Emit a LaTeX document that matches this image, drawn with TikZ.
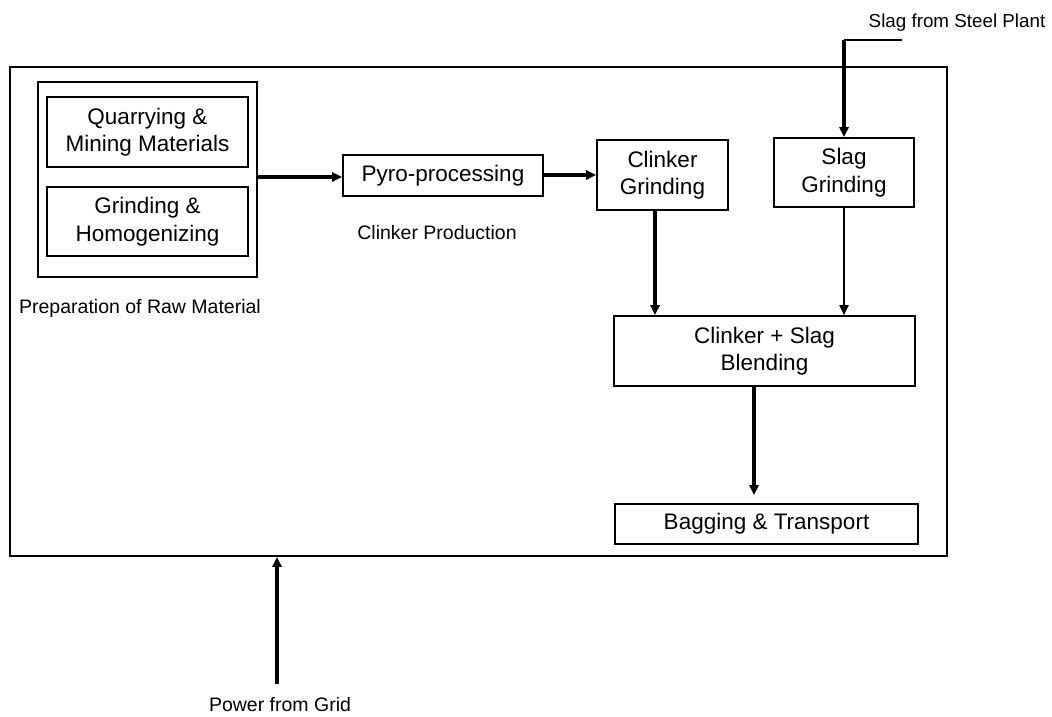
\documentclass[tikz,border=0pt]{standalone}
\usepackage{fontspec}
\setmainfont{Liberation Sans}
\usetikzlibrary{arrows.meta,calc}
\begin{document}
\begin{tikzpicture}[x=1pt,y=-1pt,
  box/.style={draw, line width=1.6pt, rectangle, inner sep=0pt, align=center,
    font=\fontsize{22.5}{27.5}\selectfont},
  lbl/.style={inner sep=0pt, font=\fontsize{19.5}{24}\selectfont},
  thickarrow/.style={line width=3.6pt, -{Triangle[length=10pt,width=9pt]}},
  thinarrow/.style={line width=1.8pt, -{Triangle[length=10pt,width=9pt]}},
  plainline/.style={line width=1.6pt}]
\useasboundingbox (0,0) rectangle (1052,717);
% outer frame
\node[box, minimum width=937pt, minimum height=489pt] (outer) at (478.5,311.5) {};
% raw material container
\node[box, minimum width=219pt, minimum height=195pt] (cont) at (147.5,179.5) {};
\node[box, minimum width=201pt, minimum height=70pt] (quarry) at (147.5,132) {Quarrying \&\\Mining Materials};
\node[box, minimum width=201pt, minimum height=69pt] (grind) at (147.5,221.5) {Grinding \&\\Homogenizing};
\node[lbl] (prep) at (140,308) {Preparation of Raw Material};
% process boxes
\node[box, minimum width=200pt, minimum height=41pt] (pyro) at (443,175.5) {Pyro-processing};
\node[lbl] (clprod) at (437,233) {Clinker Production};
\node[box, minimum width=131pt, minimum height=70pt] (cg) at (662.5,175) {Clinker\\Grinding};
\node[box, minimum width=140pt, minimum height=69pt] (sg) at (844,172.5) {Slag\\Grinding};
\node[box, minimum width=301pt, minimum height=70pt] (blend) at (764.5,351) {Clinker + Slag\\Blending};
\node[box, minimum width=303pt, minimum height=40pt] (bag) at (766.5,524) {Bagging \& Transport};
% external labels
\node[lbl, font=\fontsize{18.8}{23}\selectfont] (slagtxt) at (957,23) {Slag from Steel Plant};
\node[lbl] (power) at (280,705) {Power from Grid};
\coordinate (slagend) at (902,40);
\coordinate (powerend) at (277,684);
% connectors
\draw[thickarrow] (cont.east |- 0,177) -- (pyro.west |- 0,177);
\draw[thickarrow] (pyro.east |- 0,175) -- (cg.west |- 0,175);
\draw[thickarrow] ([xshift=-7.5pt]cg.south) -- ([xshift=-7.5pt]cg.south |- blend.north);
\draw[thinarrow] (sg.south) -- (sg.south |- blend.north);
\draw[thickarrow, shorten >=8pt] ([xshift=-10.5pt]blend.south) -- ([xshift=-10.5pt]blend.south |- bag.north);
\draw[plainline] (slagend) -- (sg.north |- slagend);
\draw[thickarrow] (sg.north |- slagend) -- (sg.north);
\draw[thickarrow] (powerend) -- (powerend |- outer.south);
\end{tikzpicture}
\end{document}
